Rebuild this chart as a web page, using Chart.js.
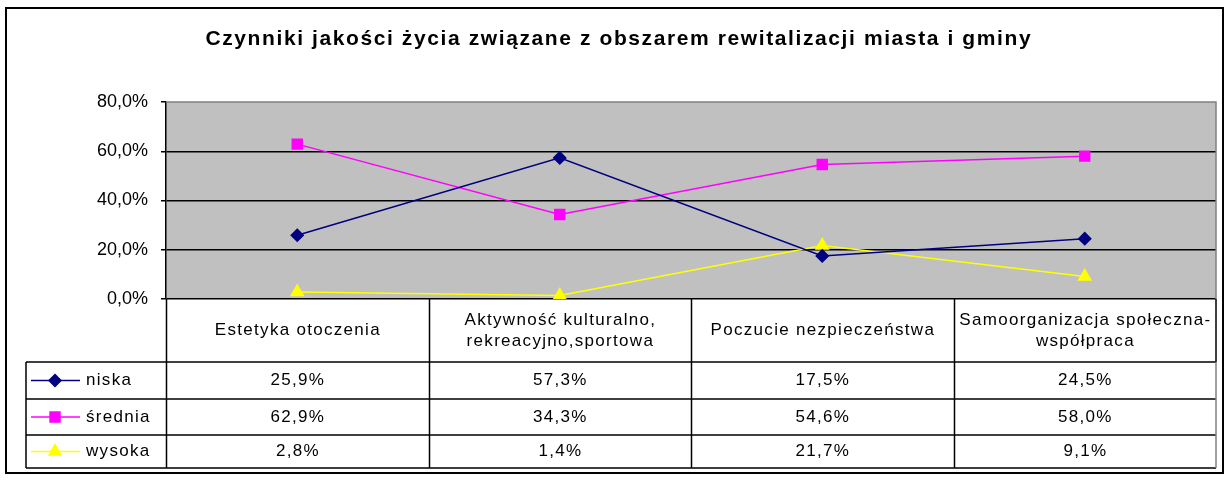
<!DOCTYPE html>
<html><head><meta charset="utf-8">
<script src="https://cdn.jsdelivr.net/npm/chart.js@4.4.1/dist/chart.umd.min.js"></script>
<style>html,body{margin:0;padding:0;background:#fff}#wrap{width:1229px;height:480px}</style>
</head><body><div id="wrap"><canvas id="c" width="1229" height="480"></canvas></div>
<script>
const chartTitle = 'Czynniki jakości życia związane z obszarem rewitalizacji miasta i gminy';
const categories = [['Estetyka otoczenia'], ['Aktywność kulturalno,', 'rekreacyjno,sportowa'], ['Poczucie nezpieczeństwa'], ['Samoorganizacja społeczna-', 'współpraca']];
const seriesNames = ['niska', 'średnia', 'wysoka'];
const niska = [25.9, 57.3, 17.5, 24.5];
const srednia = [62.9, 34.3, 54.6, 58.0];
const wysoka = [2.8, 1.4, 21.7, 9.1];
const yTickValues = [0, 20, 40, 60, 80];

const FONT = 'Arial, "Liberation Sans", sans-serif';
const fmt = v => v.toFixed(1).replace('.', ',') + '%';

function spacedText(ctx, text, x, y, spacing) {
  ctx.letterSpacing = spacing + 'px';
  const align = ctx.textAlign;
  let dx = 0;
  if (align === 'center') dx = spacing / 2;
  ctx.fillText(text, x + dx, y);
  ctx.letterSpacing = '0px';
}

const tablePlugin = {
  id: 'excelTable',
  beforeDraw(chart) {
    const ctx = chart.ctx, a = chart.chartArea;
    ctx.save();
    ctx.fillStyle = '#fff';
    ctx.fillRect(0, 0, chart.width, chart.height);
    ctx.strokeStyle = '#000';
    ctx.lineWidth = 2;
    ctx.strokeRect(6, 8, 1217, 465);
    ctx.fillStyle = '#C0C0C0';
    ctx.fillRect(a.left, a.top, a.right - a.left, a.bottom - a.top);
    ctx.restore();
  },
  afterDraw(chart) {
    const ctx = chart.ctx, a = chart.chartArea, xs = chart.scales.x;
    ctx.save();
    // plot border top/right gray
    ctx.strokeStyle = '#808080';
    ctx.lineWidth = 1.5;
    ctx.beginPath();
    ctx.moveTo(a.left, a.top); ctx.lineTo(a.right, a.top); ctx.lineTo(a.right, a.bottom);
    ctx.stroke();
    // title
    ctx.fillStyle = '#000';
    ctx.font = 'bold 21px ' + FONT;
    ctx.textAlign = 'center';
    ctx.textBaseline = 'middle';
    spacedText(ctx, chartTitle, 618, 39, 1.6);

    // column boundaries
    const n = categories.length;
    const bounds = [a.left];
    for (let i = 1; i < n; i++) bounds.push((xs.getPixelForValue(i - 1) + xs.getPixelForValue(i)) / 2);
    bounds.push(a.right);
    const headerBottom = 362;
    const rowLines = [362, 399, 435, 468];
    const legLeft = 26;

    ctx.strokeStyle = '#000';
    ctx.lineWidth = 1.5;
    ctx.beginPath();
    for (let i = 0; i < bounds.length - 1; i++) {
      const x = Math.round(bounds[i]) + 0.5;
      ctx.moveTo(x, a.bottom); ctx.lineTo(x, rowLines[rowLines.length - 1]);
    }
    ctx.moveTo(legLeft, headerBottom); ctx.lineTo(legLeft, rowLines[rowLines.length - 1]);
    ctx.moveTo(a.right, a.bottom); ctx.lineTo(a.right, headerBottom);
    rowLines.forEach(y => { ctx.moveTo(legLeft, y); ctx.lineTo(a.right, y); });
    ctx.stroke();
    ctx.strokeStyle = '#808080';
    ctx.beginPath();
    ctx.moveTo(a.right, headerBottom); ctx.lineTo(a.right, rowLines[rowLines.length - 1]);
    ctx.stroke();

    // header texts
    const SP = 1.3;
    ctx.fillStyle = '#000';
    ctx.font = '17px ' + FONT;
    ctx.textAlign = 'center';
    ctx.textBaseline = 'middle';
    const hMid = (a.bottom + headerBottom) / 2;
    categories.forEach((lines, i) => {
      const cx = xs.getPixelForValue(i);
      const lh = 21;
      const y0 = hMid - (lines.length - 1) * lh / 2;
      lines.forEach((t, j) => spacedText(ctx, t, cx, y0 + j * lh, SP));
    });
    // rows
    chart.data.datasets.forEach((ds, r) => {
      const yMid = (rowLines[r] + rowLines[r + 1]) / 2;
      ds.data.forEach((v, i) => {
        ctx.fillStyle = '#000';
        ctx.textAlign = 'center';
        spacedText(ctx, fmt(v), xs.getPixelForValue(i), yMid, SP);
      });
      ctx.strokeStyle = ds.borderColor;
      ctx.lineWidth = 1.5;
      ctx.beginPath();
      ctx.moveTo(31, yMid); ctx.lineTo(80, yMid);
      ctx.stroke();
      ctx.fillStyle = ds.pointBackgroundColor;
      ctx.strokeStyle = ds.borderColor;
      Chart.helpers.drawPoint(ctx, {pointStyle: ds.pointStyle, radius: ds.pointRadius, borderWidth: 1, rotation: 0}, 55, yMid);
      ctx.fillStyle = '#000';
      ctx.textAlign = 'left';
      spacedText(ctx, ds.label, 86, yMid, SP);
    });
    ctx.restore();
  }
};

new Chart(document.getElementById('c'), {
  type: 'line',
  data: {
    labels: categories,
    datasets: [
      {label: seriesNames[0], data: niska, borderColor: '#000080', backgroundColor: '#000080', pointBackgroundColor: '#000080', pointBorderColor: '#000080', pointStyle: 'rectRot', pointRadius: 6, borderWidth: 1.5},
      {label: seriesNames[1], data: srednia, borderColor: '#FF00FF', backgroundColor: '#FF00FF', pointBackgroundColor: '#FF00FF', pointBorderColor: '#FF00FF', pointStyle: 'rect', pointRadius: 7, borderWidth: 1.5},
      {label: seriesNames[2], data: wysoka, borderColor: '#FFFF00', backgroundColor: '#FFFF00', pointBackgroundColor: '#FFFF00', pointBorderColor: '#FFFF00', pointStyle: 'triangle', pointRadius: 7, borderWidth: 1.5}
    ]
  },
  options: {
    responsive: false,
    animation: false,
    layout: {padding: {left: 0, top: 102, right: 13, bottom: 181}},
    plugins: {legend: {display: false}, title: {display: false}, tooltip: {enabled: false}},
    scales: {
      x: {type: 'category', offset: true, display: false},
      y: {
        min: 0, max: 80,
        afterFit(s) { s.width = 166; },
        afterBuildTicks(s) { s.ticks = yTickValues.map(v => ({value: v})); },
        border: {display: true, color: '#000', width: 1.5},
        grid: {
          color: c => (c.tick && c.tick.value === 80) ? 'rgba(0,0,0,0)' : '#000',
          lineWidth: 1.5, tickColor: '#000', tickLength: 5, drawTicks: true
        },
        ticks: {
          color: '#000', padding: 13,
          font: {family: FONT, size: 18},
          callback: v => fmt(v)
        }
      }
    }
  },
  plugins: [tablePlugin]
});
</script>
</body></html>
